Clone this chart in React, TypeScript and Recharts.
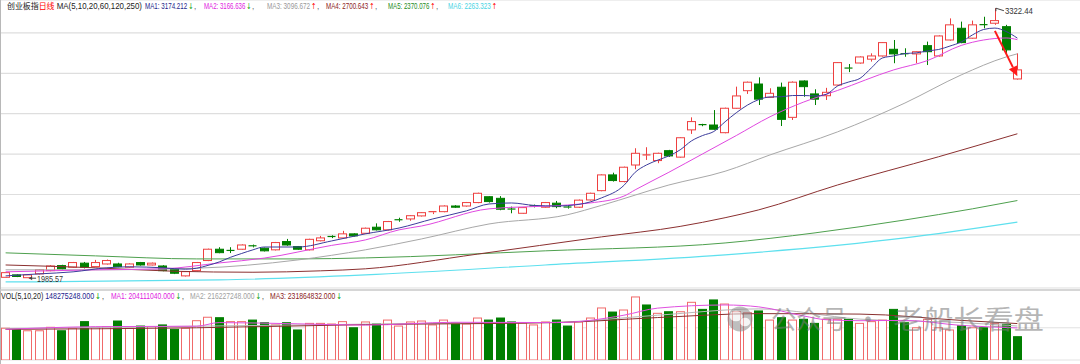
import React from "react";
import { ComposedChart, Bar, Line, XAxis, YAxis, CartesianGrid, ReferenceDot, ReferenceLine } from "recharts";

// ---------------- data ----------------
const opens = [1990,2002,1988,2007,2023,2048,2040,2060,2043,2056, 2056,2040,2063,2051,2046,2030,1997,2023,2073,2129, 2123,2129,2146,2134,2126,2167,2142,2126,2171,2192, 2185,2205,2208,2238,2225,2275,2279,2294,2312,2315, 2343,2343,2360,2389,2381,2328,2307,2344,2337,2357, 2338,2337,2373,2419,2497,2464,2546,2594,2568,2617, 2585,2720,2746,2744,2706,2827,2914,2947,2881,2931, 2782,2962,2898,2889,2942,3026,3051,3070,3086,3119, 3097,3096,3137,3086,3165,3223,3174,3241,3248,3231, 2972];
const closes = [2013,1994,2002,2027,2046,2032,2063,2040,2063,2073, 2043,2056,2051,2060,2023,2010,2018,2063,2129,2112, 2121,2150,2144,2121,2162,2150,2129,2178,2185,2190, 2205,2195,2233,2225,2266,2273,2295,2310,2315,2343, 2337,2360,2406,2365,2327,2326,2335,2342,2360,2340, 2336,2372,2406,2497,2469,2535,2604,2596,2604,2591, 2681,2761,2744,2723,2827,2888,2956,2872,2901,2772, 2956,2934,2872,2906,3053,3024,3081,3086,3152,3096, 3095,3107,3107,3185,3240,3152,3240,3239,3261,3116, 3017];
const highs = [2016,2005,2004,2030,2050,2052,2066,2066,2076,2078, 2062,2059,2066,2063,2050,2033,2020,2066,2132,2139, 2139,2153,2152,2137,2165,2180,2145,2181,2195,2198, 2220,2208,2236,2257,2269,2285,2298,2313,2316,2346, 2347,2363,2409,2392,2392,2340,2338,2350,2363,2368, 2342,2375,2409,2500,2508,2538,2629,2634,2607,2621, 2684,2782,2750,2818,2830,2934,2959,2980,2926,2954, 2960,2965,2921,2928,3056,3046,3084,3099,3155,3165, 3124,3110,3157,3188,3272,3256,3261,3280,3322.44,3240, 3099];
const lows = [1988,1991,1985.57,2004,2020,2029,2037,2034,2040,2053, 2040,2037,2048,2049,2020,2006,1994,2020,2070,2109, 2110,2126,2138,2118,2123,2146,2126,2123,2168,2184, 2182,2192,2205,2222,2222,2265,2270,2291,2303,2312, 2333,2340,2357,2360,2322,2307,2304,2336,2334,2332, 2330,2333,2370,2416,2464,2460,2525,2571,2555,2586, 2582,2700,2738,2720,2703,2824,2898,2843,2878,2739, 2769,2884,2843,2868,2939,3006,3048,3058,3083,3050, 3082,3050,3041,3083,3162,3149,3171,3223,3240,3091, 2969];
// volume in millions
const volumes = [202,195,186,186,208,186,202,244,208,212, 248,202,216,212,223,195,202,250,272,269, 244,244,254,237,223,237,191,233,233,229, 244,205,242,229,254,216,242,248,223,254, 235,229,267,254,267,242,235,223,242,254, 216,242,267,331,305,318,401,350,297,307, 307,367,322,382,356,307,301,312,254,269, 254,259,233,259,259,259,233,244,254,322, 237,205,259,205,191,218,205,205,233,227, 148.275248];

// moving averages read at sampled candles: [candle index, value]
const ma1Pts = [[0,1997],[3,2007],[6,2017],[9,2037],[11,2042],[14,2037],[16,2030],[17,2035],[18,2049],[19,2066],[20,2089],[21,2108],[22,2126],[23,2140],[26,2140],[29,2170],[32,2205],[35,2234],[38,2279],[41,2319],[43,2353],[45,2358],[47,2346],[49,2343],[51,2351],[53,2383],[55,2445],[56,2510],[57,2546],[58,2570],[59,2591],[60,2621],[61,2665],[62,2692],[63,2712],[64,2760],[65,2805],[66,2843],[67,2870],[68,2883],[69,2884],[70,2890],[71,2890],[72,2888],[73,2896],[74,2937],[75,2957],[76,2975],[77,3026],[78,3076],[79,3086],[80,3098],[81,3101],[82,3111],[83,3118],[84,3135],[85,3155],[86,3190],[87,3217],[88,3224],[89,3207],[90,3174.212]];
const ma2Pts = [[0,2017],[8,2027],[14,2032],[19,2061],[23,2085],[29,2148],[32,2175],[35,2225],[37,2244],[43,2329],[50,2348],[52,2358],[55,2392],[56,2423],[59,2510],[62,2601],[65,2692],[68,2785],[71,2858],[74,2915],[79,3017],[82,3063],[85,3138],[87,3165],[89,3175],[90,3166.636]];
const ma3Pts = [[0,2027],[8,2027],[17,2035],[26,2076],[32,2126],[37,2180],[43,2254],[50,2300],[53,2346],[59,2447],[64,2515],[68,2596],[74,2710],[80,2853],[85,2992],[89,3081],[90,3096.672]];
const ma4Pts = [[0,2051],[8,2037],[15,2020],[22,2015],[28,2022],[32,2032],[42,2105],[53,2190],[60,2242],[64,2285],[67,2324],[74,2447],[83,2587],[90,2700.643]];
const ma5Pts = [[0,2111],[8,2096],[17,2081],[26,2081],[32,2086],[48,2121],[64,2160],[72,2210],[80,2274],[86,2329],[90,2370.076]];
const ma6Pts = [[0,1967],[19,1977],[32,2002],[48,2051],[64,2101],[80,2185],[90,2263.323]];
const vma1Pts = [[0,195],[8,212],[17,215],[19,238],[26,230],[32,222],[40,240],[49,238],[55,285],[58,330],[64,350],[67,338],[71,280],[73,256],[76,250],[80,252],[85,220],[90,204.11104]];
const vma2Pts = [[0,200],[17,215],[32,228],[49,240],[58,285],[67,325],[76,260],[85,238],[90,216.227248]];
const vma3Pts = [[0,195],[17,205],[32,225],[49,238],[58,270],[67,295],[76,292],[85,252],[90,231.864832]];

const days = opens.map((_, i) => `D${i + 1}`);
const priceTicks = [2200, 2400, 2600, 2800, 3000, 3200];
const volTicks = [205];

// ---------------- table ----------------
type Row = Record<string, any>;
const data: Row[] = opens.map((o, i) => ({
  day: days[i],
  open: o,
  close: closes[i],
  high: highs[i],
  low: lows[i],
  volume: volumes[i],
  volUp: i === 0 ? closes[i] >= o : closes[i] >= closes[i - 1],
  ma1: null, ma2: null, ma3: null, ma4: null, ma5: null, ma6: null,
  vma1: null, vma2: null, vma3: null,
}));
const put = (key: string, pts: number[][]) => pts.forEach(([i, v]) => { data[i][key] = v; });
put("ma1", ma1Pts); put("ma2", ma2Pts); put("ma3", ma3Pts);
put("ma4", ma4Pts); put("ma5", ma5Pts); put("ma6", ma6Pts);
put("vma1", vma1Pts); put("vma2", vma2Pts); put("vma3", vma3Pts);

const maxIdx = highs.indexOf(Math.max(...highs));
const minIdx = lows.indexOf(Math.min(...lows));

// ---------------- styles ----------------
const W = 1080;
const RED = "#ee3f3f";
const GREEN = "#007f00";
const VRED = "#f06a6a";
const MA_COLORS = ["#3c3c9c", "#e048e0", "#a8a8a8", "#8b3030", "#4ea04e", "#5ee0ee"];
const MA_TEXT = ["#23238a", "#e020e0", "#999999", "#8b2222", "#228b22", "#48d4e4"];
const VMA_COLORS = ["#e050e0", "#b8b8b8", "#8b3030"];
const VMA_TEXT = ["#e020e0", "#a0a0a0", "#8b2222"];
const NUM_FONT = "'Liberation Sans', Arial, sans-serif";
const CJK_FONT = "'Noto Sans CJK SC', sans-serif";
const ARROW_FONT = "'DejaVu Sans', sans-serif";
const XPAD = { left: 0, right: 57 };
const TF = 8.2; // title font size

function Candle(props: any) {
  const { x, y, width, height, payload } = props;
  if (!payload || !isFinite(y) || !isFinite(height)) return null;
  const { open, close, high, low } = payload;
  const up = close >= open;
  const color = up ? RED : GREEN;
  const k = height / (high - low || 1);
  const py = (v: number) => y + (high - v) * k;
  const cx = Math.round(x + width / 2) + 0.5;
  const top = py(Math.max(open, close));
  const bot = py(Math.min(open, close));
  const bx = Math.round(x) + 0.5;
  const bw = Math.round(width) - 1;
  const bh = bot - top;
  return (
    <g>
      <line x1={cx} x2={cx} y1={y} y2={top} stroke={color} strokeWidth={1} />
      <line x1={cx} x2={cx} y1={bot} y2={y + height} stroke={color} strokeWidth={1} />
      {bh < 1.2 ? (
        <line x1={bx} x2={bx + bw} y1={top} y2={top} stroke={color} strokeWidth={1.2} />
      ) : (
        <rect x={bx} y={top} width={bw} height={bh} fill={up ? "#ffffff" : color} stroke={color} strokeWidth={1} />
      )}
    </g>
  );
}

function VolBar(props: any) {
  const { x, y, width, height, payload } = props;
  if (!payload || !isFinite(y) || !isFinite(height)) return null;
  const up = payload.volUp;
  const color = up ? VRED : GREEN;
  return (
    <rect x={Math.round(x) + 0.5} y={y} width={Math.round(width) - 1} height={height}
      fill={up ? "#ffffff" : color} stroke={color} strokeWidth={1} />
  );
}

function HighMark(props: any) {
  const { cx, cy } = props;
  return (
    <g>
      <line x1={cx + 1} y1={cy} x2={cx + 1} y2={cy + 3} stroke="#444" />
      <line x1={cx + 1} y1={cy} x2={cx + 9} y2={cy + 2.5} stroke="#444" />
      <text x={cx + 10} y={cy + 5.5} fontSize={9} fill="#333" fontFamily={NUM_FONT}
        textLength={28} lengthAdjust="spacingAndGlyphs">{highs[maxIdx].toFixed(2)}</text>
    </g>
  );
}

function LowMark(props: any) {
  const { cx, cy } = props;
  return (
    <g>
      <line x1={cx + 1} y1={cy} x2={cx + 8} y2={cy} stroke="#444" />
      <path d={`M${cx + 1},${cy} L${cx + 4},${cy - 2} L${cx + 4},${cy + 2} Z`} fill="#444" />
      <text x={cx + 9} y={cy + 3.5} fontSize={9} fill="#333" fontFamily={NUM_FONT}
        textLength={26} lengthAdjust="spacingAndGlyphs">{lows[minIdx].toFixed(2)}</text>
    </g>
  );
}

function RedArrow(props: any) {
  const { x1, y1, x2, y2 } = props;
  if (![x1, y1, x2, y2].every((v) => isFinite(v))) return null;
  const dx = x2 - x1, dy = y2 - y1;
  const len = Math.hypot(dx, dy) || 1;
  const ux = dx / len, uy = dy / len;
  const hl = 10, hw = 4.5;
  const bx = x2 - ux * hl, by = y2 - uy * hl;
  return (
    <g>
      <line x1={x1} y1={y1} x2={bx} y2={by} stroke="#ff1a1a" strokeWidth={2} />
      <path d={`M${x2},${y2} L${bx - uy * hw},${by + ux * hw} L${bx + uy * hw},${by - ux * hw} Z`} fill="#ff1a1a" />
    </g>
  );
}

const lastOf = (pts: number[][]) => pts[pts.length - 1][1];
const prevOf = (pts: number[][]) => pts[pts.length - 2][1];
const maPts = [ma1Pts, ma2Pts, ma3Pts, ma4Pts, ma5Pts, ma6Pts];
// [x start, total width]
const maGroup = [[145, 51], [204, 50], [267, 52], [326, 51], [388, 50], [448, 49]];
const vmaPts = [vma1Pts, vma2Pts, vma3Pts];
const vmaGroup = [[111, 73], [190, 74], [270, 72]];

function Group({ x, y, w, label, value, up, color, comma }: any) {
  return (
    <text x={x} y={y} fontSize={TF} fontFamily={NUM_FONT} textLength={w} lengthAdjust="spacingAndGlyphs">
      <tspan fill={color}>{`${label} ${value}`}</tspan>
      <tspan dx={1.2} fill={up ? "#ff0000" : "#00a000"} fontFamily={ARROW_FONT}>{up ? "↑" : "↓"}</tspan>
      {comma && <tspan dx={1.2} fill="#333">,</tspan>}
    </text>
  );
}

function Overlay() {
  const ty = 9;
  const vy = 298.5;
  const volLast = volumes[volumes.length - 1];
  const volPrev = volumes[volumes.length - 2];
  return (
    <svg width={W} height={364} style={{ position: "absolute", left: 0, top: 0, pointerEvents: "none" }}>
      <line x1={0.5} y1={0} x2={0.5} y2={364} stroke="#b8b8b8" strokeWidth={1} />
      <line x1={0} y1={290} x2={W} y2={290} stroke="#c8c8c8" strokeWidth={1.5} />
      {/* price title */}
      <text x={7} y={ty} fontSize={TF} textLength={135} lengthAdjust="spacingAndGlyphs">
        <tspan fill="#222" fontFamily={CJK_FONT}>创业板指</tspan>
        <tspan fill="#ff0000" fontFamily={CJK_FONT}>日线</tspan>
        <tspan fill="#222" fontFamily={NUM_FONT}> MA(5,10,20,60,120,250)</tspan>
      </text>
      {maPts.map((pts, k) => (
        <Group key={k} x={maGroup[k][0]} y={ty} w={maGroup[k][1]} label={`MA${k + 1}:`}
          value={lastOf(pts).toFixed(3)} up={lastOf(pts) > prevOf(pts)} color={MA_TEXT[k]} comma={k < 5} />
      ))}
      {/* volume title */}
      <text x={1} y={vy} fontSize={TF} textLength={103} lengthAdjust="spacingAndGlyphs" fontFamily={NUM_FONT}>
        <tspan fill="#222">VOL(5,10,20) </tspan>
        <tspan fill="#1a1a8c">{(volLast * 1e6).toFixed(3)}</tspan>
        <tspan dx={1.2} fill={volLast > volPrev ? "#ff0000" : "#00a000"} fontFamily={ARROW_FONT}>{volLast > volPrev ? "↑" : "↓"}</tspan>
        <tspan dx={1.2} fill="#333">,</tspan>
      </text>
      {vmaPts.map((pts, k) => (
        <Group key={k} x={vmaGroup[k][0]} y={vy} w={vmaGroup[k][1]} label={`MA${k + 1}:`}
          value={(lastOf(pts) * 1e6).toFixed(3)} up={lastOf(pts) > prevOf(pts)} color={VMA_TEXT[k]} comma={k < 2} />
      ))}
      {/* watermark */}
      <g opacity={0.55}>
        <circle cx={740} cy={319} r={12.5} fill="#8a8a8a" />
        <ellipse cx={736} cy={316} rx={6.5} ry={5.2} fill="#ffffff" opacity={0.85} />
        <ellipse cx={745} cy={322} rx={5.2} ry={4.3} fill="#ffffff" opacity={0.85} />
        <text x={771} y={329} fontSize={26} fill="#7a7a7a" fontFamily={CJK_FONT} textLength={76} lengthAdjust="spacingAndGlyphs">公众号</text>
        <text x={855} y={329} fontSize={26} fill="#7a7a7a" fontFamily={CJK_FONT}>·</text>
        <text x={893} y={329} fontSize={26} fill="#7a7a7a" fontFamily={CJK_FONT} textLength={151} lengthAdjust="spacingAndGlyphs">老船长看盘</text>
      </g>
    </svg>
  );
}

const lineCommon = { dot: false, activeDot: false, connectNulls: true, isAnimationActive: false, type: "monotone" as const };

export default function App() {
  return (
    <div style={{ position: "absolute", left: 0, top: 0, width: W, height: 364, background: "#ffffff", overflow: "hidden" }}>
      <div style={{ position: "absolute", left: 0, top: 0 }}>
        <ComposedChart width={W} height={288} data={data} margin={{ top: 0, right: 0, bottom: 0, left: 0 }}>
          <CartesianGrid horizontal vertical={false} stroke="#dedede" strokeWidth={1.2} />
          <XAxis dataKey="day" hide padding={XPAD} />
          <YAxis hide domain={[1937, 3363]} ticks={priceTicks} allowDataOverflow />
          <Bar dataKey={(d: any) => [d.low, d.high]} barSize={9} shape={<Candle />} activeBar={false} isAnimationActive={false} />
          <Line dataKey="ma6" stroke={MA_COLORS[5]} strokeWidth={1.2} {...lineCommon} />
          <Line dataKey="ma5" stroke={MA_COLORS[4]} strokeWidth={1} {...lineCommon} />
          <Line dataKey="ma4" stroke={MA_COLORS[3]} strokeWidth={1} {...lineCommon} />
          <Line dataKey="ma3" stroke={MA_COLORS[2]} strokeWidth={1} {...lineCommon} />
          <Line dataKey="ma2" stroke={MA_COLORS[1]} strokeWidth={1} {...lineCommon} />
          <Line dataKey="ma1" stroke={MA_COLORS[0]} strokeWidth={1} {...lineCommon} />
          <ReferenceDot x={days[maxIdx]} y={highs[maxIdx]} r={0} shape={(p: any) => <HighMark {...p} />} />
          <ReferenceDot x={days[minIdx]} y={lows[minIdx]} r={0} shape={(p: any) => <LowMark {...p} />} />
          <ReferenceLine segment={[{ x: days[88], y: 3210 }, { x: days[90], y: 2985 }]} shape={(p: any) => <RedArrow {...p} />} />
        </ComposedChart>
      </div>
      <div style={{ position: "absolute", left: 0, top: 288 }}>
        <ComposedChart width={W} height={76} data={data} margin={{ top: 0, right: 0, bottom: 4, left: 0 }}>
          <CartesianGrid horizontal vertical={false} stroke="#e2e2e2" strokeWidth={1} />
          <XAxis dataKey="day" hide padding={XPAD} />
          <YAxis hide domain={[0, 458]} ticks={volTicks} allowDataOverflow />
          <Bar dataKey="volume" barSize={9} shape={<VolBar />} activeBar={false} isAnimationActive={false} />
          <Line dataKey="vma2" stroke={VMA_COLORS[1]} strokeWidth={1} {...lineCommon} />
          <Line dataKey="vma3" stroke={VMA_COLORS[2]} strokeWidth={1} {...lineCommon} />
          <Line dataKey="vma1" stroke={VMA_COLORS[0]} strokeWidth={1} {...lineCommon} />
        </ComposedChart>
      </div>
      <Overlay />
    </div>
  );
}
